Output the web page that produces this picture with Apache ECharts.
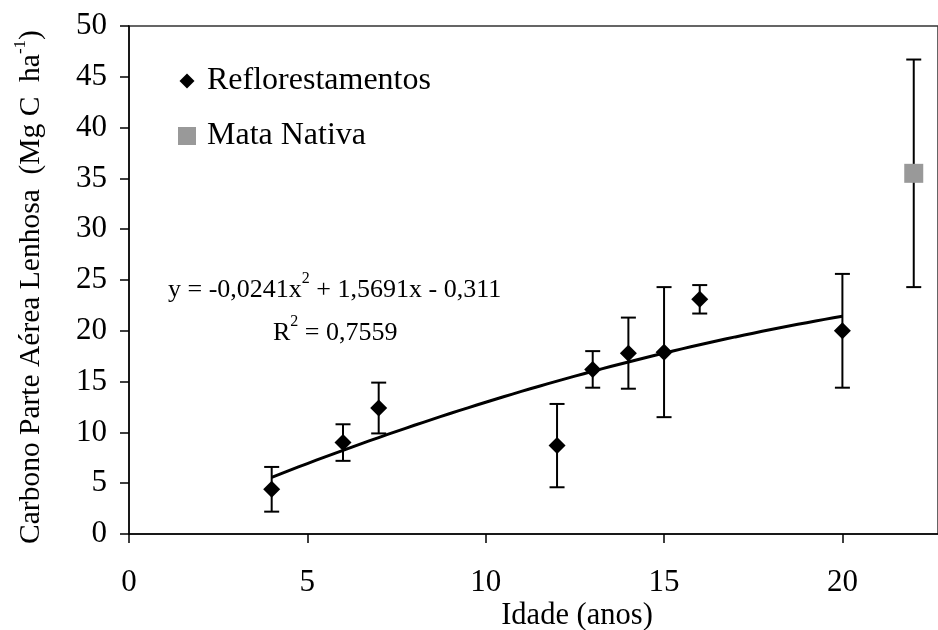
<!DOCTYPE html>
<html>
<head>
<meta charset="utf-8">
<script src="https://cdn.jsdelivr.net/npm/echarts@6/dist/echarts.min.js"></script>
<style>
  html, body { margin: 0; padding: 0; background: #fff; }
  #chart { width: 938px; height: 630px; }
</style>
</head>
<body>
<div id="chart"></div>
<script>
// Reforestation plots: age (years), mean carbon and half-width of the error bar
const refAges   = [4, 6, 7, 12, 13, 14, 15, 16, 20];
const refCarbon = [4.4, 9.0, 12.4, 8.7, 16.2, 17.8, 17.9, 23.1, 20.0];
const refError  = [2.2, 1.8, 2.5, 4.1, 1.8, 3.5, 6.4, 1.4, 5.6];

// Native forest reference
const nativeAge    = [22];
const nativeCarbon = [35.5];
const nativeError  = [11.2];

// Quadratic fit: y = a*x^2 + b*x + c, and its R^2
const fitCoef = [-0.0241, 1.5691, -0.311];
const fitR2 = 0.7559;
const fitRange = [4, 20];

const xTicks = [0, 5, 10, 15, 20];

const FONT = '"Liberation Serif", "Times New Roman", serif';

// Fitted curve sampled across the range of the reforestation ages
const fitLine = [];
for (let x = fitRange[0]; x <= fitRange[1] + 1e-9; x += 0.25) {
  fitLine.push([x, fitCoef[0] * x * x + fitCoef[1] * x + fitCoef[2]]);
}

function fmt(v, d) { return Math.abs(v).toFixed(d).replace('.', ','); }
const eqHead = 'y = ' + (fitCoef[0] < 0 ? '-' : '') + fmt(fitCoef[0], 4) + 'x';
const eqTail = ' ' + (fitCoef[1] < 0 ? '-' : '+') + ' ' + fmt(fitCoef[1], 4) + 'x ' +
               (fitCoef[2] < 0 ? '-' : '+') + ' ' + fmt(fitCoef[2], 3);
const r2Text = ' = ' + fmt(fitR2, 4);

function errData(xs, ys, es) {
  return xs.map((x, i) => [x, ys[i] - es[i], ys[i] + es[i]]);
}

function renderErr(params, api) {
  const x = api.value(0);
  const lo = api.coord([x, api.value(1)]);
  const hi = api.coord([x, api.value(2)]);
  const cap = 7.5;
  const st = { stroke: '#000', lineWidth: 2 };
  return {
    type: 'group',
    children: [
      { type: 'line', shape: { x1: lo[0], y1: lo[1], x2: hi[0], y2: hi[1] }, style: st },
      { type: 'line', shape: { x1: lo[0] - cap, y1: lo[1], x2: lo[0] + cap, y2: lo[1] }, style: st },
      { type: 'line', shape: { x1: hi[0] - cap, y1: hi[1], x2: hi[0] + cap, y2: hi[1] }, style: st }
    ]
  };
}

const chart = echarts.init(document.getElementById('chart'));
chart.setOption({
  animation: false,
  backgroundColor: '#fff',
  textStyle: { fontFamily: FONT },
  grid: {
    left: 129, top: 26, width: 811, height: 508,
    show: true, borderColor: '#333', borderWidth: 1.5, backgroundColor: 'transparent'
  },
  legend: {
    orient: 'vertical',
    left: 173, top: 60,
    padding: 5,
    itemWidth: 18, itemHeight: 18, itemGap: 23,
    textStyle: { fontFamily: FONT, fontSize: 32, color: '#000', padding: [0, 0, 0, 6] },
    data: [
      // diamond drawn a little smaller than its 18px legend box
      { name: 'Reflorestamentos', icon: 'path://M0,0M18,18M9,1.5L16.5,9L9,16.5L1.5,9Z', itemStyle: { color: '#000', opacity: 1 } },
      { name: 'Mata Nativa', icon: 'rect', itemStyle: { color: '#999999', opacity: 1 } }
    ]
  },
  xAxis: {
    type: 'value',
    min: 0, max: 22.68,
    splitLine: { show: false },
    axisLine: { lineStyle: { color: '#000', width: 1.5 } },
    axisTick: { show: true, length: 9, inside: false, customValues: xTicks, lineStyle: { color: '#000', width: 1.5 } },
    axisLabel: { customValues: xTicks, fontFamily: FONT, fontSize: 31, color: '#000', margin: 33 }
  },
  yAxis: {
    type: 'value',
    min: 0, max: 50, interval: 5,
    splitLine: { show: false },
    axisLine: { show: true, lineStyle: { color: '#000', width: 1.5 } },
    axisTick: { show: true, length: 9, lineStyle: { color: '#000', width: 1.5 } },
    axisLabel: { fontFamily: FONT, fontSize: 31, color: '#000', margin: 22 }
  },
  series: [
    {
      type: 'custom',
      name: 'err-ref',
      renderItem: renderErr,
      data: errData(refAges, refCarbon, refError),
      encode: { x: 0, y: [1, 2] },
      z: 2, silent: true
    },
    {
      type: 'custom',
      name: 'err-native',
      renderItem: renderErr,
      data: errData(nativeAge, nativeCarbon, nativeError),
      encode: { x: 0, y: [1, 2] },
      z: 2, silent: true
    },
    {
      type: 'line',
      name: 'fit',
      data: fitLine,
      showSymbol: false,
      lineStyle: { color: '#000', width: 3 },
      z: 3, silent: true
    },
    {
      type: 'scatter',
      name: 'Reflorestamentos',
      data: refAges.map((x, i) => [x, refCarbon[i]]),
      symbol: 'diamond',
      symbolSize: 17,
      itemStyle: { color: '#000', opacity: 1 },
      z: 4
    },
    {
      type: 'scatter',
      name: 'Mata Nativa',
      data: nativeAge.map((x, i) => [x, nativeCarbon[i]]),
      symbol: 'rect',
      symbolSize: 19,
      itemStyle: { color: '#999999', opacity: 1 },
      z: 4
    }
  ],
  graphic: [
    {
      type: 'text',
      left: 168, top: 271,
      style: {
        text: '{t|' + eqHead + '}{s|2}{t|' + eqTail + '}',
        rich: {
          t: { fontFamily: FONT, fontSize: 26, fill: '#000', lineHeight: 32, verticalAlign: 'bottom' },
          s: { fontFamily: FONT, fontSize: 16, fill: '#000', lineHeight: 32, verticalAlign: 'top' }
        }
      }
    },
    {
      type: 'text',
      left: 273, top: 314,
      style: {
        text: '{t|R}{s|2}{t|' + r2Text + '}',
        rich: {
          t: { fontFamily: FONT, fontSize: 26, fill: '#000', lineHeight: 32, verticalAlign: 'bottom' },
          s: { fontFamily: FONT, fontSize: 16, fill: '#000', lineHeight: 32, verticalAlign: 'top' }
        }
      }
    },
    {
      type: 'text',
      x: 577, y: 616,
      style: {
        text: 'Idade (anos)',
        fontFamily: FONT, fontSize: 30.5, fill: '#000',
        align: 'center', verticalAlign: 'middle'
      }
    },
    {
      type: 'text',
      x: 29, y: 287,
      rotation: Math.PI / 2,
      style: {
        text: '{t|Carbono Parte Aérea Lenhosa  (Mg C  ha}{s|-1}{t|)}',
        align: 'center', verticalAlign: 'middle',
        rich: {
          t: { fontFamily: FONT, fontSize: 29.5, fill: '#000', lineHeight: 34, verticalAlign: 'bottom' },
          s: { fontFamily: FONT, fontSize: 17, fill: '#000', lineHeight: 34, verticalAlign: 'top' }
        }
      }
    }
  ]
});
</script>
</body>
</html>
